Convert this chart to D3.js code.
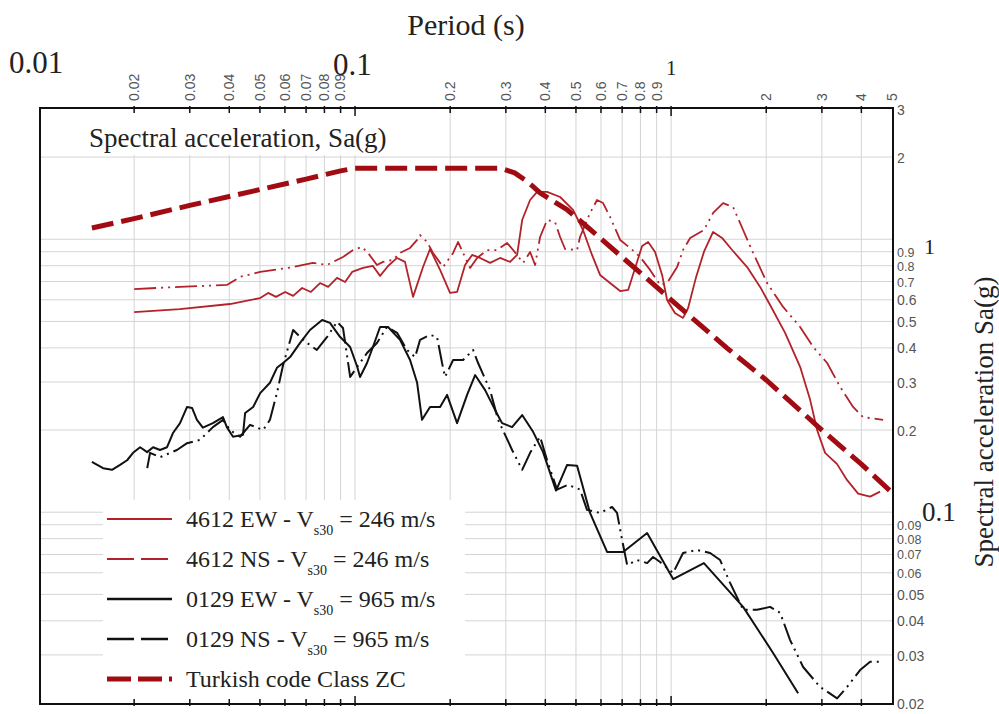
<!DOCTYPE html>
<html>
<head>
<meta charset="utf-8">
<script src="https://cdn.jsdelivr.net/npm/d3@7"></script>
<style>
  body { margin: 0; background: #fff; }
  svg { display: block; }
  .serif { font-family: "Liberation Serif", "Times New Roman", serif; fill: #222; }
  .tick-lab { font-family: "Liberation Sans", Arial, sans-serif; font-size: 14px; fill: #555; }
  .tick-lab.small { font-size: 12.5px; }
</style>
</head>
<body>
<svg width="999" height="714"></svg>
<script>
// tick values of both log axes
var periodTicks = [0.02, 0.03, 0.04, 0.05, 0.06, 0.07, 0.08, 0.09, 0.1,
  0.2, 0.3, 0.4, 0.5, 0.6, 0.7, 0.8, 0.9, 1, 2, 3, 4, 5];
var periodLabels = ['0.02', '0.03', '0.04', '0.05', '0.06', '0.07', '0.08', '0.09', '',
  '0.2', '0.3', '0.4', '0.5', '0.6', '0.7', '0.8', '0.9', '', '2', '3', '4', '5'];
var saTicks = [0.02, 0.03, 0.04, 0.05, 0.06, 0.07, 0.08, 0.09, 0.1,
  0.2, 0.3, 0.4, 0.5, 0.6, 0.7, 0.8, 0.9, 1, 2, 3];
var saLabels = ['0.02', '0.03', '0.04', '0.05', '0.06', '0.07', '0.08', '0.09', '',
  '0.2', '0.3', '0.4', '0.5', '0.6', '0.7', '0.8', '0.9', '', '2', '3'];

// [period (s), Sa (g)]
var turkishCode = [[0.0147, 1.10], [0.02, 1.19], [0.03, 1.33], [0.05, 1.52], [0.07, 1.66],
  [0.09, 1.78], [0.1, 1.82], [0.2, 1.82], [0.29, 1.82], [0.32, 1.75], [0.35, 1.63],
  [0.385, 1.48], [0.47, 1.28], [0.58, 1.04], [0.7, 0.86], [0.86, 0.70], [1, 0.6],
  [1.5, 0.40], [2, 0.305], [3, 0.20], [4, 0.15], [5, 0.118]];

var ew4612 = [[0.02, 0.541], [0.0279, 0.555], [0.0402, 0.579], [0.0501, 0.609], [0.0531, 0.636],
  [0.0562, 0.615], [0.0601, 0.641], [0.0637, 0.620], [0.068, 0.663], [0.0725, 0.641],
  [0.0775, 0.691], [0.0822, 0.669], [0.0877, 0.722], [0.093, 0.697], [0.0979, 0.759],
  [0.106, 0.785], [0.1139, 0.798], [0.12, 0.734], [0.1272, 0.798], [0.1358, 0.854],
  [0.1439, 0.826], [0.1526, 0.615], [0.1641, 0.791], [0.1727, 0.921], [0.1858, 0.772],
  [0.1998, 0.636], [0.2103, 0.641], [0.2229, 0.805], [0.2346, 0.876], [0.2487, 0.854],
  [0.2675, 0.819], [0.2877, 0.854], [0.3095, 0.826], [0.3257, 0.876], [0.3379, 1.176],
  [0.358, 1.392], [0.3768, 1.49], [0.4052, 1.49], [0.4455, 1.428], [0.4896, 1.28],
  [0.5264, 1.081], [0.5621, 0.876], [0.596, 0.740], [0.641, 0.691], [0.69, 0.646],
  [0.7314, 0.652], [0.7695, 0.785], [0.8097, 0.945], [0.8458, 0.977], [0.8898, 0.898],
  [0.9365, 0.740], [0.9713, 0.599], [1.028, 0.537], [1.091, 0.515], [1.132, 0.560],
  [1.198, 0.722], [1.27, 0.898], [1.358, 1.063], [1.45, 1.011], [1.56, 0.913],
  [1.74, 0.791], [1.913, 0.669], [2.057, 0.574], [2.295, 0.454], [2.56, 0.341],
  [2.754, 0.258], [2.897, 0.200], [3.071, 0.165], [3.352, 0.150], [3.606, 0.131],
  [3.907, 0.117], [4.264, 0.114], [4.585, 0.119]];

var ns4612 = [[0.02, 0.657], [0.0279, 0.669], [0.0393, 0.680], [0.0433, 0.728], [0.0501, 0.759],
  [0.0637, 0.791], [0.0736, 0.819], [0.0816, 0.805], [0.0916, 0.861], [0.0986, 0.913],
  [0.1052, 0.937], [0.1099, 0.891], [0.1173, 0.805], [0.1226, 0.826], [0.1319, 0.840],
  [0.1388, 0.891], [0.1493, 0.929], [0.1572, 0.994], [0.1606, 1.036], [0.169, 0.977],
  [0.1765, 0.891], [0.1899, 0.791], [0.2043, 0.891], [0.2118, 0.977], [0.2197, 0.891],
  [0.2312, 0.785], [0.2433, 0.854], [0.2617, 0.913], [0.2815, 0.913], [0.3028, 0.969],
  [0.3163, 0.913], [0.3404, 0.819], [0.358, 0.898], [0.3713, 0.805], [0.385, 1.019],
  [0.4052, 1.176], [0.4293, 1.156], [0.4455, 1.019], [0.462, 0.921], [0.5042, 0.913],
  [0.515, 1.019], [0.554, 1.248], [0.583, 1.392], [0.6092, 1.357], [0.641, 1.207],
  [0.69, 0.994], [0.742, 0.929], [0.798, 0.861], [0.858, 0.772], [0.923, 0.680],
  [0.9713, 0.691], [1.045, 0.791], [1.091, 0.913], [1.149, 1.011], [1.27, 1.081],
  [1.358, 1.248], [1.461, 1.357], [1.571, 1.312], [1.69, 1.081], [1.8175, 0.891],
  [2.013, 0.691], [2.262, 0.565], [2.56, 0.477], [2.815, 0.403], [3.117, 0.352],
  [3.426, 0.288], [3.766, 0.243], [4.05, 0.223], [4.686, 0.218]];

var ew0129 = [[0.0147, 0.153], [0.01595, 0.145], [0.01702, 0.143], [0.01805, 0.149],
  [0.019, 0.155], [0.01984, 0.165], [0.02089, 0.173], [0.02199, 0.166], [0.02296, 0.173],
  [0.02415, 0.169], [0.02542, 0.173], [0.02654, 0.195], [0.02794, 0.212], [0.02941, 0.243],
  [0.0305, 0.241], [0.0316, 0.218], [0.033, 0.204], [0.0355, 0.212], [0.0382, 0.223],
  [0.0393, 0.205], [0.0411, 0.189], [0.0442, 0.192], [0.0449, 0.231], [0.0476, 0.243],
  [0.0501, 0.273], [0.0538, 0.298], [0.0566, 0.338], [0.0592, 0.352], [0.0623, 0.370],
  [0.067, 0.417], [0.072, 0.465], [0.0787, 0.506], [0.0833, 0.494], [0.0896, 0.439],
  [0.0965, 0.403], [0.1016, 0.341], [0.1037, 0.313], [0.1091, 0.352], [0.1139, 0.403],
  [0.12, 0.477], [0.1272, 0.477], [0.1388, 0.428], [0.1493, 0.361], [0.1572, 0.298],
  [0.1629, 0.218], [0.1727, 0.243], [0.1858, 0.243], [0.1955, 0.269], [0.2103, 0.212],
  [0.2262, 0.269], [0.2398, 0.318], [0.258, 0.280], [0.2773, 0.237], [0.2919, 0.212],
  [0.314, 0.205], [0.3379, 0.227], [0.3659, 0.197], [0.3935, 0.166], [0.4325, 0.120],
  [0.4688, 0.149], [0.5042, 0.148], [0.554, 0.0994], [0.6272, 0.0715], [0.7053, 0.0715],
  [0.8397, 0.0839], [1.0147, 0.0569], [1.27, 0.0651], [1.69, 0.045], [2.1025, 0.0305],
  [2.523, 0.0217]];

var ns0129 = [[0.022, 0.145], [0.02246, 0.165], [0.02415, 0.159], [0.02732, 0.169],
  [0.02941, 0.179], [0.0323, 0.184], [0.0355, 0.205], [0.0382, 0.218], [0.0402, 0.200],
  [0.04326, 0.189], [0.04653, 0.209], [0.0512, 0.200], [0.0538, 0.218], [0.0566, 0.273],
  [0.0592, 0.346], [0.0637, 0.465], [0.067, 0.439], [0.0705, 0.417], [0.0757, 0.393],
  [0.0816, 0.439], [0.0877, 0.498], [0.0916, 0.473], [0.0965, 0.313], [0.1016, 0.341],
  [0.1091, 0.383], [0.1173, 0.417], [0.1262, 0.477], [0.1358, 0.454], [0.146, 0.393],
  [0.1549, 0.370], [0.1606, 0.428], [0.1727, 0.446], [0.1817, 0.439], [0.1885, 0.352],
  [0.1927, 0.313], [0.2043, 0.361], [0.2197, 0.361], [0.2363, 0.393], [0.2451, 0.352],
  [0.2675, 0.280], [0.2836, 0.218], [0.314, 0.169], [0.3379, 0.143], [0.358, 0.165],
  [0.385, 0.189], [0.4052, 0.155], [0.4356, 0.121], [0.4722, 0.126], [0.515, 0.121],
  [0.542, 0.102], [0.596, 0.0994], [0.6504, 0.1045], [0.6745, 0.0994], [0.70, 0.0791],
  [0.7261, 0.064], [0.7808, 0.0668], [0.8397, 0.0651], [0.877, 0.0685], [0.923, 0.0657],
  [1.0147, 0.0599], [1.091, 0.0709], [1.2085, 0.0727], [1.329, 0.0709], [1.429, 0.0668],
  [1.537, 0.0551], [1.69, 0.0439], [1.871, 0.0439], [2.057, 0.045], [2.213, 0.0428],
  [2.38, 0.034], [2.617, 0.0271], [2.961, 0.0229], [3.352, 0.0208], [3.606, 0.0229],
  [3.964, 0.0264], [4.264, 0.0283], [4.585, 0.0283]];

var seriesNames = [['4612 EW - V', 's30', ' = 246 m/s'], ['4612 NS - V', 's30', ' = 246 m/s'],
  ['0129 EW - V', 's30', ' = 965 m/s'], ['0129 NS - V', 's30', ' = 965 m/s'],
  ['Turkish code Class ZC']];
var seriesData = [ew4612, ns4612, ew0129, ns0129, turkishCode];
var seriesColors = ['#b3222a', '#b3222a', '#111', '#111', '#a10c12'];
var seriesWidths = [1.8, 1.8, 2, 2, 5];
var seriesDash = [null, '22,5,2,5,2,5', null, '22,5,2,5,2,5', '22,8'];
var legendDash = [null, '27,7', null, '27,7', '24,7'];

var svg = d3.select('svg');
// plot box (note: "top" is reserved on window, so use other names)
var pLeft = 40, pRight = 893, pTop = 108, pBottom = 704;

var scaleX = d3.scaleLog().domain([0.01, 5]).range([39, 892]);
var scaleY = d3.scaleLog().domain([0.02, 3]).range([703, 109]);

// grid
var grid = svg.append('g').attr('stroke', '#d4d4d4').attr('stroke-width', 1);
grid.selectAll('.gx').data(periodTicks.filter(function(d) { return d < 5; }))
  .enter().append('line')
  .attr('x1', function(d) { return scaleX(d); }).attr('x2', function(d) { return scaleX(d); })
  .attr('y1', pTop).attr('y2', pBottom);
grid.selectAll('.gy').data(saTicks.filter(function(d) { return d > 0.02 && d < 3; }))
  .enter().append('line')
  .attr('y1', function(d) { return scaleY(d); }).attr('y2', function(d) { return scaleY(d); })
  .attr('x1', pLeft).attr('x2', pRight);

// white boxes for the inner title and the legend
svg.append('rect').attr('x', 84).attr('y', 110).attr('width', 364).attr('height', 45).attr('fill', '#fff');
svg.append('rect').attr('x', 103).attr('y', 500).attr('width', 362).attr('height', 200).attr('fill', '#fff');

svg.append('defs').append('clipPath').attr('id', 'plotClip')
  .append('rect').attr('x', pLeft).attr('y', pTop).attr('width', pRight - pLeft).attr('height', pBottom - pTop);

var line = d3.line()
  .x(function(d) { return scaleX(d[0]); })
  .y(function(d) { return scaleY(d[1]); });

var curves = svg.append('g').attr('clip-path', 'url(#plotClip)');
curves.selectAll('path').data(seriesData).enter().append('path')
  .attr('d', line)
  .attr('fill', 'none')
  .attr('stroke', function(d, i) { return seriesColors[i]; })
  .attr('stroke-width', function(d, i) { return seriesWidths[i]; })
  .attr('stroke-dasharray', function(d, i) { return seriesDash[i]; })
  .attr('stroke-linejoin', 'round');

// frame and ticks
svg.append('rect').attr('x', pLeft).attr('y', pTop).attr('width', pRight - pLeft).attr('height', pBottom - pTop)
  .attr('fill', 'none').attr('stroke', '#111').attr('stroke-width', 2);
var ticks = svg.append('g').attr('stroke', '#111').attr('stroke-width', 1.5);
ticks.selectAll('.tt').data(periodTicks.filter(function(d) { return d < 5; })).enter().append('line')
  .attr('x1', function(d) { return scaleX(d); }).attr('x2', function(d) { return scaleX(d); })
  .attr('y1', pTop - 2).attr('y2', function(d) { return (d === 0.1 || d === 1) ? pTop + 8 : pTop + 5; });
ticks.selectAll('.tb').data(periodTicks.filter(function(d) { return d < 5; })).enter().append('line')
  .attr('x1', function(d) { return scaleX(d); }).attr('x2', function(d) { return scaleX(d); })
  .attr('y1', pBottom + 2).attr('y2', function(d) { return (d === 0.1 || d === 1) ? pBottom - 8 : pBottom - 5; });

// period tick labels (rotated, small)
svg.selectAll('.plab').data(periodTicks).enter().append('text')
  .attr('class', 'tick-lab')
  .attr('transform', function(d) { return 'translate(' + scaleX(d) + ',101) rotate(-90)'; })
  .attr('dy', '0.35em')
  .text(function(d, i) { return periodLabels[i]; });

// big decade labels on top
svg.append('text').attr('class', 'serif').attr('x', 9).attr('y', 73).attr('font-size', 31).text('0.01');
svg.append('text').attr('class', 'serif').attr('x', 333).attr('y', 75).attr('font-size', 31).text('0.1');
svg.append('text').attr('class', 'serif').attr('x', 666).attr('y', 75).attr('font-size', 21).text('1');
svg.append('text').attr('class', 'serif').attr('x', 466).attr('y', 35).attr('font-size', 30)
  .attr('text-anchor', 'middle').text('Period (s)');

// Sa tick labels on the right (the crowded ones a bit smaller)
svg.selectAll('.slab').data(saTicks).enter().append('text')
  .attr('class', function(d) { return (d >= 0.06 && d < 0.1) || d >= 0.7 && d < 1 ? 'tick-lab small' : 'tick-lab'; })
  .attr('x', 897)
  .attr('y', function(d) { return scaleY(d); })
  .attr('dy', '0.4em')
  .text(function(d, i) { return saLabels[i]; });
svg.append('text').attr('class', 'serif').attr('x', 924).attr('y', 254).attr('font-size', 22).text('1');
svg.append('text').attr('class', 'serif').attr('x', 922).attr('y', 521).attr('font-size', 27).text('0.1');
svg.append('text').attr('class', 'serif').attr('font-size', 27)
  .attr('transform', 'translate(993,422) rotate(-90)')
  .attr('text-anchor', 'middle').text('Spectral acceleration Sa(g)');

// inner title
svg.append('text').attr('class', 'serif').attr('x', 89).attr('y', 147).attr('font-size', 27)
  .text('Spectral acceleration, Sa(g)');

// legend
var legend = svg.append('g');
seriesNames.forEach(function(name, i) {
  var ly = 519 + i * 40;
  legend.append('line').attr('x1', 107).attr('x2', 172).attr('y1', ly).attr('y2', ly)
    .attr('stroke', seriesColors[i])
    .attr('stroke-width', i === 4 ? 5 : seriesWidths[i] + 0.4)
    .attr('stroke-dasharray', legendDash[i]);
  var t = legend.append('text').attr('class', 'serif').attr('x', 186).attr('y', ly + 8)
    .attr('font-size', 24);
  t.append('tspan').text(name[0]);
  if (name.length > 1) {
    t.append('tspan').attr('font-size', 14).attr('dy', 8).text(name[1]);
    t.append('tspan').attr('dy', -8).text(name[2]);
  }
});
</script>
</body>
</html>
